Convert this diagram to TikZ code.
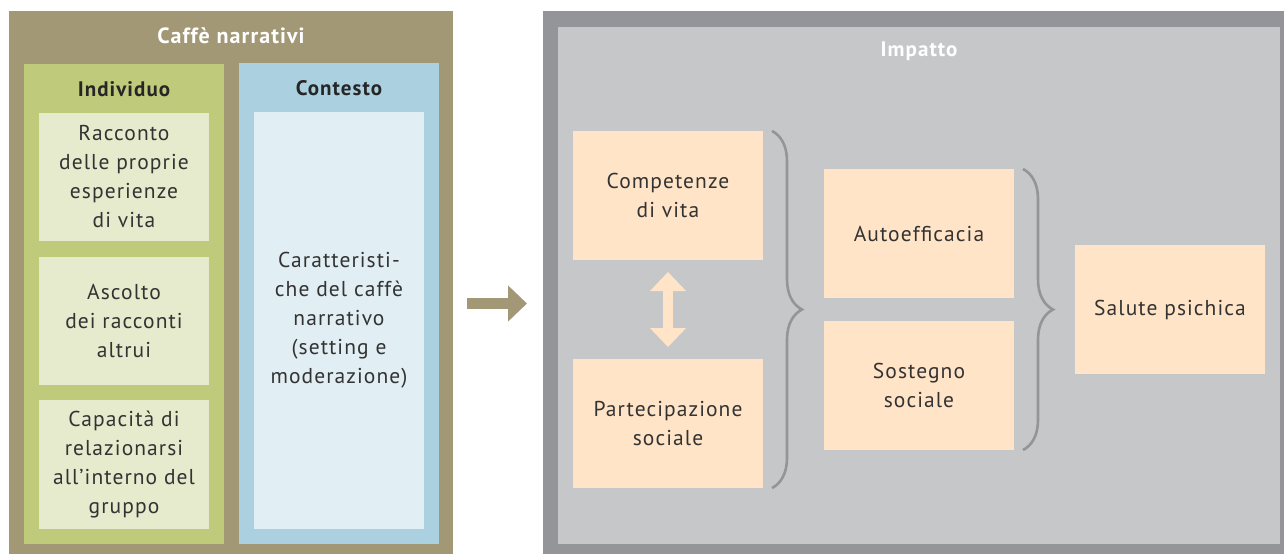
\documentclass[tikz,border=0pt]{standalone}
\usepackage{fontspec}
\setmainfont{PT Sans}[LetterSpace=5]
\usepackage{tikz}
\usetikzlibrary{arrows.meta,positioning,calc}
\usetikzlibrary{decorations.pathreplacing}
\definecolor{caffebrown}{RGB}{163,152,118}
\definecolor{indivgreen}{RGB}{192,202,123}
\definecolor{palegreen}{RGB}{230,235,205}
\definecolor{contblue}{RGB}{171,209,225}
\definecolor{paleblue}{RGB}{225,238,243}
\definecolor{darkgray}{RGB}{147,149,152}
\definecolor{midgray}{RGB}{198,199,201}
\definecolor{peach}{RGB}{255,228,200}
\definecolor{inktext}{RGB}{51,51,51}
\tikzstyle{panel}=[rectangle,inner sep=0pt,outer sep=0pt]
\tikzstyle{boxtext}=[panel,align=center,text=inktext,
               font=\fontsize{21.5}{29}\selectfont]
\tikzstyle{leftbox}=[boxtext,fill=palegreen,minimum width=170,minimum height=128.5]
\tikzstyle{outcome}=[boxtext,fill=peach,minimum width=190,minimum height=129]
\tikzstyle{headwhite}=[text=white,font=\fontsize{22}{24}\selectfont\bfseries]
\tikzstyle{headdark}=[text=black!85,font=\fontsize{21}{24}\selectfont\bfseries]
\tikzstyle{curly}=[draw=darkgray,line width=2.6pt,decorate,
               decoration={brace,amplitude=30pt,aspect=0.5}]

\begin{document}
\begin{tikzpicture}[x=1pt,y=-1pt]

\useasboundingbox (0,0) rectangle (1284,554);

% % % % % % % % % % % % % % %
% Caffe narrativi

\node[panel,fill=caffebrown,minimum width=444,minimum height=543] (caffe) at (231,282.5) {};
\node[headwhite] (caffetitle) at ([yshift=-25pt]caffe.north) {Caffè narrativi};

\node[panel,fill=indivgreen,minimum width=200,minimum height=480] (indiv) at (124,304) {};
\node[headdark] (indivtitle) at ([yshift=-25pt]indiv.north) {Individuo};

\node[panel,fill=contblue,minimum width=200,minimum height=481] (cont) at (339,303.5) {};
\node[headdark] (conttitle) at ([yshift=-25pt]cont.north) {Contesto};

\node[leftbox] (racconto) at (124,177) {Racconto\\delle proprie\\esperienze\\di vita};
\node[leftbox] (ascolto) at (124,321) {Ascolto\\dei racconti\\altrui};
\node[leftbox] (capacita) at (124,464.5) {Capacità di\\relazionarsi\\all’interno del\\gruppo};

\node[boxtext,fill=paleblue,minimum width=170,minimum height=417] (setting) at (339,320.5)
   {Caratteristi-\\che del caffè\\narrativo\\(setting e\\moderazione)};

% % % % % % % % % % % % % % %
% Impatto

\node[panel,fill=darkgray,minimum width=741,minimum height=543] (impatto) at (913.5,282.5) {};
\node[panel,fill=midgray,minimum width=722,minimum height=517] (impin) at (919,285.5) {};
\node[headwhite,font=\fontsize{21}{24}\selectfont\bfseries] (impattotitle) at ([yshift=-24pt]impin.north) {Impatto};

\node[outcome] (comp) at (668,195.5) {Competenze\\di vita};
\node[outcome] (part) at (668,423.5) {Partecipazione\\sociale};
\node[outcome] (auto) at (919,233.5) {Autoefficacia};
\node[outcome] (sost) at (919,385.5) {Sostegno\\sociale};
\node[outcome] (salute) at (1170,309.5) {Salute psichica};

\draw[curly] ([xshift=9pt]comp.north east) -- ([xshift=9pt]part.south east);
\draw[curly] ([xshift=9pt]auto.north east) -- ([xshift=9pt]sost.south east);

\draw[peach,line width=10pt,{Triangle[length=19pt,width=35pt]}-{Triangle[length=19pt,width=35pt]},
      shorten <=12pt,shorten >=12pt] (comp.south) -- (part.north);

% big arrow
\draw[caffebrown,line width=11pt,-{Triangle[length=19pt,width=35pt]},
      shorten <=14pt,shorten >=16pt] ([yshift=-21pt]caffe.east) -- ([yshift=-21pt]impatto.west);

\end{tikzpicture}
\end{document}
